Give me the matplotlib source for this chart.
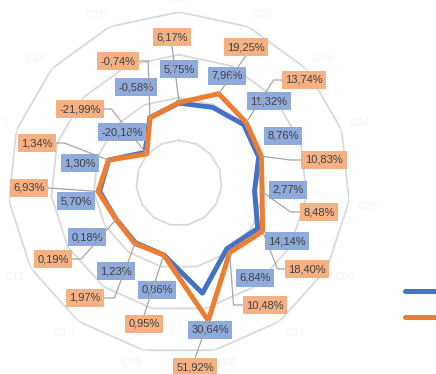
import numpy as np
import matplotlib
matplotlib.use("Agg")
import matplotlib.pyplot as plt
from matplotlib.lines import Line2D
from matplotlib.transforms import IdentityTransform

# category names are drawn almost white in the source and cannot be read
categories = ["C01", "C02", "C03", "C04", "C05", "C06", "C07", "C08",
              "C09", "C10", "C11", "C12", "C13", "C14", "C15"]
serie1 = [5.75, 7.96, 11.32, 8.76, 2.77, 14.14, 6.84, 30.64,
          0.86, 1.23, 0.18, 5.70, 1.30, -20.18, -0.58]
serie2 = [6.17, 19.25, 13.74, 10.83, 8.48, 18.40, 10.48, 51.92,
          0.95, 1.97, 0.19, 6.93, 1.34, -21.99, -0.74]

BLUE, ORANGE = "#4472C4", "#ED7D31"
BLUE_BG, ORANGE_BG = "#8FAADC", "#F4B183"
W, H = 436, 374

# label centres in pixels (x, y from top) and leader styles
pos1 = [(179, 69), (227, 76), (269, 101), (283, 136), (288, 190), (287, 241),
        (255, 278), (210, 330), (157, 290), (116, 271), (87, 237), (76, 201),
        (80, 163), (122, 132), (136, 87)]
pos2 = [(172, 37), (246, 47), (304, 80), (324, 160), (319, 212), (307, 269),
        (265, 305), (195, 367), (144, 324), (85, 298), (53, 259), (29, 188),
        (37, 143), (80, 109), (118, 61)]
leaders = [("b", 0), ("b", 0), ("l", 8), ("l", 11), ("l", 9), ("l", 7),
           ("l", 9), ("t", 0), ("t", 0), ("r", 10), ("r", 9), ("r", 0),
           ("r", 8), ("r", 7), ("r", 9)]

plt.rcParams["font.family"] = "Liberation Sans"

fig = plt.figure(figsize=(W / 100, H / 100), dpi=100)
ax = fig.add_axes([8 / W, 20 / H, 342 / W, 342 / H], projection="polar")
ax.set_theta_zero_location("N")
ax.set_theta_direction(-1)
rmin, rmax = -55, 75
ax.set_rlim(rmin, rmax)
ax.set_xticks([])
ax.set_yticks([])
ax.grid(False)
ax.spines["polar"].set_visible(False)
ax.patch.set_visible(False)

n = len(categories)
theta = np.linspace(0, 2 * np.pi, n, endpoint=False)
theta_c = np.append(theta, theta[0])

# polygon gridlines
for g in np.arange(rmin + 32.5, rmax + 1, 32.5):
    ax.plot(theta_c, np.full(n + 1, g), color="#d9d9d9", lw=1.3, zorder=1)

ax.plot(theta_c, serie1 + serie1[:1], color=BLUE, lw=3.6, zorder=3)
ax.plot(theta_c, serie2 + serie2[:1], color=ORANGE, lw=3.6, zorder=4)

# faint category labels just outside the outer ring
for t, name in zip(theta, categories):
    s, c = np.sin(t), np.cos(t)
    ha = "left" if s > 0.1 else ("right" if s < -0.1 else "center")
    va = "bottom" if c > 0.1 else ("top" if c < -0.1 else "center")
    ax.text(t, 81, name, ha=ha, va=va, fontsize=8, color="#f4f4f4")


def fmt(v):
    return f"{v:.2f}%".replace(".", ",")


def label(xy, txt, bg, z):
    return fig.text(xy[0] / W, 1 - xy[1] / H, txt, ha="center", va="center",
                    fontsize=8, color="#404040", zorder=z,
                    bbox=dict(boxstyle="square,pad=0.33", fc=bg, ec="none"))


for v, p in zip(serie1, pos1):
    label(p, fmt(v), BLUE_BG, 3)
texts2 = [label(p, fmt(v), ORANGE_BG, 4) for v, p in zip(serie2, pos2)]

fig.canvas.draw()
renderer = fig.canvas.get_renderer()
for t, r, txt, (side, el) in zip(theta, serie2, texts2, leaders):
    px, py = ax.transData.transform((t, r))
    bb = txt.get_bbox_patch().get_window_extent(renderer)
    cx, cy = (bb.x0 + bb.x1) / 2, (bb.y0 + bb.y1) / 2
    if side == "l":
        xs, ys = [bb.x0, bb.x0 - el, px], [cy, cy, py]
    elif side == "r":
        xs, ys = [bb.x1, bb.x1 + el, px], [cy, cy, py]
    elif side == "b":
        xs, ys = [cx, px], [bb.y0, py]
    else:
        xs, ys = [cx, px], [bb.y1, py]
    fig.add_artist(Line2D(xs, ys, transform=IdentityTransform(),
                          color="#a6a6a6", lw=0.9, zorder=3.5))

# legend keys (legend text falls outside the frame)
for yy, c in [(291, BLUE), (317, ORANGE)]:
    fig.add_artist(Line2D([405 / W, 1.02], [1 - yy / H] * 2,
                          transform=fig.transFigure, color=c, lw=3.6,
                          solid_capstyle="round"))

fig.savefig("out.png", dpi=100)
